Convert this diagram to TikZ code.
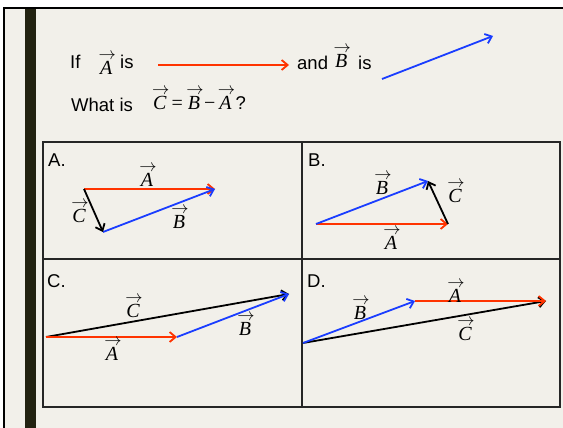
\documentclass[tikz,border=0pt]{standalone}
\usepackage{fontspec}
\setmainfont{Liberation Sans}
\newfontfamily\timesfont{Liberation Serif}
\usetikzlibrary{arrows.meta,positioning}
\definecolor{slidebg}{RGB}{242,240,234}
\definecolor{slidebar}{RGB}{34,34,17}
\definecolor{vecred}{RGB}{255,51,0}
\definecolor{vecblue}{RGB}{26,61,255}
\newcommand{\vv}[1]{{\setbox0=\hbox{\fontsize{20}{22}\timesfont\itshape #1}%
  \hbox to\wd0{\hss\kern2pt\raisebox{15pt}{\fontsize{16}{16}\selectfont$\rightarrow$}\hss}\kern-\wd0\box0}}

\begin{document}
\begin{tikzpicture}[x=1pt, y=-1pt,
    txt/.style={anchor=base west, inner sep=0pt, font=\fontsize{18.5}{20}\selectfont},
    veclbl/.style={anchor=base, inner sep=0pt},
    vecarrow/.style={line width=1.8pt, -{Straight Barb[length=6pt,width=10pt]}},
    redvec/.style={vecarrow, draw=vecred},
    bluevec/.style={vecarrow, draw=vecblue},
    blackvec/.style={vecarrow, draw=black},
    grid/.style={draw=black!85, line width=1.3pt}
]
\useasboundingbox (0,0) rectangle (563,428);
\fill[slidebg] (3,7) rectangle (563,428);
\draw[line width=2pt] (4,428) -- (4,8) -- (563,8);
\fill[slidebar] (25,9) rectangle (36,428);

\node[txt] (if) at (70,69) {If};
\node[txt] (qA) at (100,75) {\vv{A}};
\node[txt] (is1) at (120,69) {is};
\node[txt] (and) at (297,70) {and};
\node[txt] (qB) at (335,68) {\vv{B}};
\node[txt] (is2) at (358,70) {is};
\node[txt] (what) at (71,111) {What is};
\node[txt] (eq) at (153,110) {\vv{C}\hspace{5pt}{\fontsize{20}{22}\timesfont=}\hspace{5pt}\vv{B}\hspace{4pt}{\fontsize{20}{22}\timesfont −}\hspace{4pt}\vv{A}\hspace{4pt}?};

\coordinate (rA0) at (158,65);
\coordinate (rA1) at (289,65);
\coordinate (bB0) at (382,79);
\coordinate (bB1) at (493,36);
\draw[redvec] (rA0) -- (rA1);
\draw[bluevec] (bB0) -- (bB1);

\draw[grid] (43,142) rectangle (560,407);
\draw[grid] (302,142) -- (302,407);
\draw[grid] (43,259) -- (560,259);

\node[txt] (optA) at (48,167) {A.};
\node[txt] (optB) at (308,167) {B.};
\node[txt] (optC) at (47,287) {C.};
\node[txt] (optD) at (307,287) {D.};

\coordinate (pa1) at (84,189);
\coordinate (pa2) at (215,189);
\coordinate (pa3) at (103,232);
\draw[redvec] (pa1) -- (pa2);
\draw[bluevec] (pa3) -- (pa2);
\draw[blackvec] (pa1) -- (pa3);
\node[veclbl] (laA) at (147,186) {\vv{A}};
\node[veclbl] (laB) at (179,228) {\vv{B}};
\node[veclbl] (laC) at (79,222) {\vv{C}};

\coordinate (pb1) at (316,224);
\coordinate (pb2) at (448,224);
\coordinate (pb3) at (428,181);
\draw[redvec] (pb1) -- (pb2);
\draw[bluevec] (pb1) -- (pb3);
\draw[blackvec] (pb2) -- (pb3);
\node[veclbl] (lbB) at (382,194) {\vv{B}};
\node[veclbl] (lbC) at (455,202) {\vv{C}};
\node[veclbl] (lbA) at (391,249) {\vv{A}};

\coordinate (pc1) at (46,337);
\coordinate (pc2) at (177,337);
\coordinate (pc3) at (289,294);
\draw[blackvec] (pc1) -- (pc3);
\draw[redvec] (pc1) -- (pc2);
\draw[bluevec] (pc2) -- (pc3);
\node[veclbl] (lcC) at (133,317) {\vv{C}};
\node[veclbl] (lcA) at (112,360) {\vv{A}};
\node[veclbl] (lcB) at (245,335) {\vv{B}};

\coordinate (pd1) at (303,343);
\coordinate (pd2) at (415,301);
\coordinate (pd3) at (546,301);
\draw[blackvec] (pd1) -- (pd3);
\draw[bluevec] (pd1) -- (pd2);
\draw[redvec] (pd2) -- (pd3);
\node[veclbl] (ldA) at (455,302) {\vv{A}};
\node[veclbl] (ldB) at (360,319) {\vv{B}};
\node[veclbl] (ldC) at (465,340) {\vv{C}};
\end{tikzpicture}
\end{document}
